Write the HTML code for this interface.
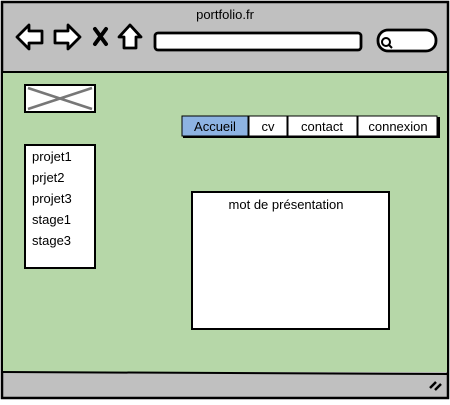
<!DOCTYPE html>
<html><head><style>
body{margin:0;width:450px;height:400px;overflow:hidden;background:#fff;font-family:"Liberation Sans",sans-serif;}
</style></head><body>
<svg width="450" height="400" xmlns="http://www.w3.org/2000/svg" font-family="Liberation Sans, sans-serif">
<rect x="2" y="2" width="446" height="396" fill="#c0c0c0" stroke="#000" stroke-width="2.5"/>
<rect x="3" y="72" width="444" height="300" fill="#b6d7a8"/>
<line x1="2" y1="72" x2="448" y2="72" stroke="#000" stroke-width="2"/>
<line x1="2" y1="372" x2="448" y2="374" stroke="#000" stroke-width="2"/>
<text x="225" y="19" font-size="13" text-anchor="middle">portfolio.fr</text>
<g fill="#fff" stroke="#000" stroke-width="2.8" stroke-linejoin="round">
<path d="M17 37 L29 25 L29 31 L42 31 L42 43 L29 43 L29 49 Z"/>
<path d="M80 37 L68 25 L68 31 L55 31 L55 43 L68 43 L68 49 Z"/>
<path d="M119 37 L130 25 L141 37 L136 37 L136 48 L124 48 L124 37 Z"/>
<rect x="155" y="33" width="206" height="17" rx="3"/>
<rect x="378" y="30" width="58" height="21" rx="10"/>
</g>
<g stroke="#000" stroke-width="4" stroke-linecap="round"><line x1="95" y1="29" x2="106" y2="44"/><line x1="106" y1="29" x2="95" y2="44"/></g>
<circle cx="386" cy="42" r="4" fill="none" stroke="#000" stroke-width="2"/>
<line x1="389" y1="45" x2="392" y2="48" stroke="#000" stroke-width="2"/>
<rect x="25" y="85" width="70" height="27" fill="#fff" stroke="#000" stroke-width="2"/>
<line x1="28" y1="88" x2="92" y2="109" stroke="#777" stroke-width="2.5"/>
<line x1="28" y1="109" x2="92" y2="88" stroke="#777" stroke-width="2.5"/>
<rect x="183" y="117" width="257" height="21" fill="#000"/>
<rect x="182" y="116" width="66" height="20" fill="#8db3e2" stroke="#000" stroke-width="1"/>
<rect x="249" y="116" width="38" height="20" fill="#fff" stroke="#000" stroke-width="1"/>
<rect x="288" y="116" width="69" height="20" fill="#fff" stroke="#000" stroke-width="1"/>
<rect x="358" y="116" width="79" height="20" fill="#fff" stroke="#000" stroke-width="1"/>
<g font-size="13" text-anchor="middle">
<text x="215" y="131">Accueil</text>
<text x="268" y="131">cv</text>
<text x="322" y="131">contact</text>
<text x="398" y="131">connexion</text>
</g>
<rect x="25" y="145" width="70" height="123" fill="#fff" stroke="#000" stroke-width="2"/>
<g font-size="13">
<text x="32" y="161">projet1</text>
<text x="32" y="182">prjet2</text>
<text x="32" y="203">projet3</text>
<text x="32" y="224">stage1</text>
<text x="32" y="245">stage3</text>
</g>
<rect x="192" y="192" width="197" height="137" fill="#fff" stroke="#000" stroke-width="2"/>
<text x="286" y="209" font-size="13" text-anchor="middle">mot de présentation</text>
<g stroke="#000" stroke-width="2.5"><line x1="430" y1="388" x2="436" y2="382"/><line x1="435" y1="390" x2="441" y2="384"/></g>
</svg>
</body></html>
